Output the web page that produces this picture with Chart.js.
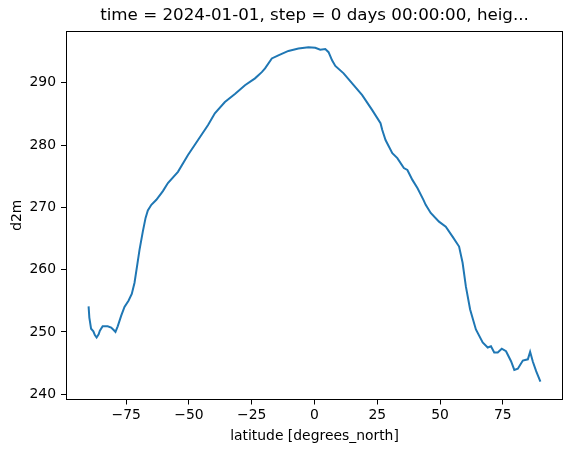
<!DOCTYPE html>
<html>
<head>
<meta charset="utf-8">
<script src="https://cdn.jsdelivr.net/npm/chart.js@4/dist/chart.umd.min.js"></script>
<style>
html,body{margin:0;padding:0;background:#fff;}
canvas{display:block;}
</style>
</head>
<body>
<canvas id="c" width="571" height="453"></canvas>
<script>
const latitudes = [-90.0,-89.7,-89.0,-88.1,-87.5,-86.8,-86.0,-85.5,-84.4,-82.4,-81.0,-80.0,-79.3,-78.4,-77.0,-75.7,-74.1,-72.8,-71.7,-70.6,-69.7,-68.4,-67.3,-66.4,-65.0,-63.0,-60.4,-58.4,-54.4,-50.4,-46.4,-42.4,-39.7,-35.7,-31.7,-27.7,-23.7,-21.0,-19.7,-17.0,-14.4,-10.4,-6.4,-2.4,0.3,2.3,4.3,5.6,7.0,8.3,11.6,15.0,19.0,23.0,26.3,27.0,28.3,31.0,33.0,35.6,37.0,39.0,41.0,43.4,44.3,46.3,49.6,52.3,55.0,57.6,59.0,60.3,62.0,64.3,67.0,69.0,70.3,71.6,73.0,74.6,76.3,78.3,79.6,81.0,83.0,85.0,85.9,87.0,88.3,90.0];
const d2m = [254.1,252.3,250.5,250.1,249.5,249.1,249.6,250.2,250.9,250.9,250.7,250.3,250.0,250.9,252.6,254.0,255.0,256.1,257.9,260.8,263.2,266.1,268.3,269.5,270.4,271.2,272.6,273.9,275.7,278.4,280.8,283.2,285.1,286.9,288.2,289.6,290.7,291.7,292.3,293.9,294.4,295.1,295.5,295.7,295.6,295.3,295.4,294.9,293.6,292.7,291.5,289.9,288.0,285.6,283.5,282.4,280.8,278.7,277.9,276.3,276.0,274.4,273.1,271.2,270.4,269.1,267.7,266.9,265.3,263.7,261.1,257.3,253.6,250.4,248.3,247.5,247.7,246.7,246.7,247.3,246.9,245.3,243.9,244.1,245.4,245.6,246.8,245.2,243.7,242.0];
const xTicks = [-75,-50,-25,0,25,50,75];
const yTicks = [240,250,260,270,280,290];
const titleText = "time = 2024-01-01, step = 0 days 00:00:00, heig...";
const xLabel = "latitude [degrees_north]";
const yLabel = "d2m";

Chart.defaults.font.family = "'DejaVu Sans', sans-serif";
Chart.defaults.font.size = 13.9;
Chart.defaults.color = "#000";

const spinesAndTitle = {
  id: 'spinesAndTitle',
  afterDraw(chart) {
    const a = chart.chartArea, ctx = chart.ctx;
    ctx.save();
    ctx.strokeStyle = '#000';
    ctx.lineWidth = 1;
    ctx.strokeRect(Math.round(a.left) + 0.5, Math.round(a.top) + 0.5, Math.round(a.right - a.left) - 1, Math.round(a.bottom - a.top) - 1);
    ctx.fillStyle = '#000';
    ctx.font = "16.7px 'DejaVu Sans', sans-serif";
    ctx.textAlign = 'center';
    ctx.textBaseline = 'alphabetic';
    ctx.fillText(titleText, (a.left + a.right) / 2, 20);
    ctx.restore();
  }
};

new Chart(document.getElementById('c'), {
  type: 'line',
  data: {
    datasets: [{
      data: latitudes.map((x, i) => ({x: x, y: d2m[i]})),
      borderColor: '#1f77b4',
      borderWidth: 2,
      pointRadius: 0,
      tension: 0,
      fill: false
    }]
  },
  options: {
    responsive: false,
    animation: false,
    layout: {padding: {left: 0, right: 8, top: 31, bottom: 0}},
    plugins: {
      legend: {display: false},
      tooltip: {enabled: false},
      title: {display: false}
    },
    scales: {
      x: {
        type: 'linear',
        min: -99,
        max: 99,
        afterBuildTicks: s => { s.ticks = xTicks.map(v => ({value: v})); },
        afterFit: s => { s.height = 53.5; },
        grid: {drawOnChartArea: false, drawTicks: true, tickLength: 5, color: '#000'},
        border: {display: false},
        ticks: {padding: 3, maxRotation: 0, autoSkip: false, callback: v => (v < 0 ? '\u2212' + Math.abs(v) : String(v))},
        title: {display: true, text: xLabel, padding: {top: 8, bottom: 8}, font: {size: 13.9}}
      },
      y: {
        type: 'linear',
        min: 239.15,
        max: 298.3,
        afterBuildTicks: s => { s.ticks = yTicks.map(v => ({value: v})); },
        afterFit: s => { s.width = 66; },
        grid: {drawOnChartArea: false, drawTicks: true, tickLength: 5, color: '#000'},
        border: {display: false},
        ticks: {padding: 5, autoSkip: false},
        title: {display: true, text: yLabel, padding: {top: 9, bottom: 9}, font: {size: 13.9}}
      }
    }
  },
  plugins: [spinesAndTitle]
});
</script>
</body>
</html>
